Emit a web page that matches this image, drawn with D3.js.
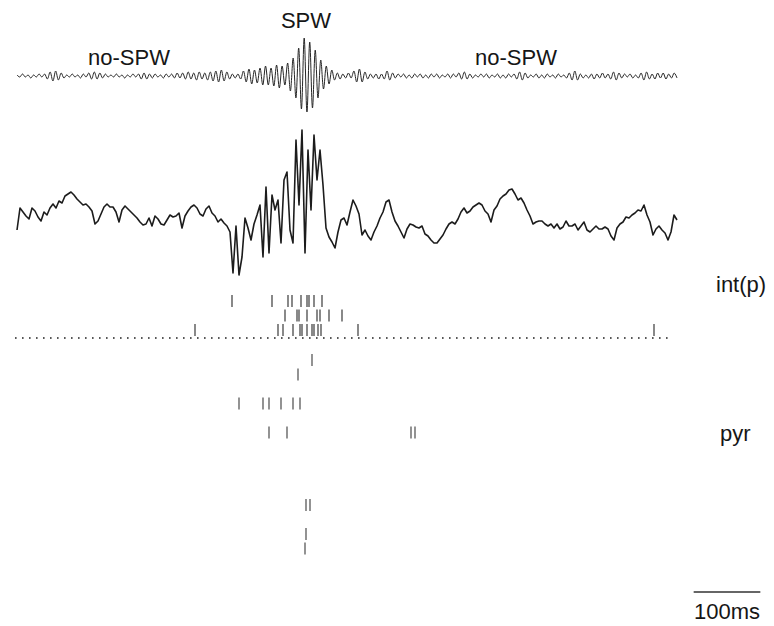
<!DOCTYPE html>
<html>
<head>
<meta charset="utf-8">
<script src="https://cdn.jsdelivr.net/npm/d3@7"></script>
<style>
  html, body { margin: 0; padding: 0; background: #ffffff; }
  svg { display: block; }
  text { font-family: "Liberation Sans", Arial, Helvetica, sans-serif; fill: #161616; }
</style>
</head>
<body>
<svg id="chart" width="774" height="626"></svg>
<script>
// ---------- DATA ----------
// total window (ms)
const windowMs = 990;

// ripple-band filtered trace (arbitrary units, evenly sampled over the window)
const rippleTrace = [
  1,-1,2,-1,1,-2,1,-1,2,-1,
  2,-3,4,-5,5,-4,3,-2,1,-1,
  2,-1,1,-2,2,-1,3,-3,4,-3,
  3,-2,2,-1,1,-1,2,-1,1,-2,
  1,-1,2,-1,2,-3,3,-3,2,-2,
  2,-1,1,-2,2,-1,2,-2,3,-2,
  3,-3,4,-3,3,-4,4,-3,3,-4,
  4,-5,5,-6,6,-5,4,-3,2,-2,
  2,-3,5,-6,7,-8,6,-7,8,-9,
  10,-9,8,-10,11,-12,10,-9,13,-15,
  18,-22,28,-33,38,-36,34,-32,26,-22,
  16,-13,10,-8,6,-4,3,-3,2,-2,
  3,-2,5,-6,7,-6,4,-3,2,-2,
  2,-3,2,-3,5,-4,3,-2,2,-1,
  2,-2,1,-2,2,-1,2,-2,1,-2,
  2,-1,2,-2,1,-1,2,-2,2,-1,
  3,-3,4,-3,2,-2,1,-1,2,-1,
  2,-2,1,-1,2,-2,1,-2,2,-1,
  2,-3,4,-4,3,-2,1,-1,2,-2,
  1,-2,2,-1,1,-2,2,-1,1,-2,
  3,-4,5,-4,2,-2,1,-2,2,-3,
  2,-2,3,-2,2,-3,4,-4,3,-2,
  2,-1,2,-2,1,-2,3,-4,4,-3,
  2,-3,3,-2,3,-3,2,-2,3,-2
];

// wide-band field potential (arbitrary units, sampled every 4.5 ms)
const lfpStepMs = 4.5;
const lfpTrace = [
  -20,2,-2,-6,-9,2,-1,-7,-11,-2,
  -5,2,6,2,9,7,14,16,18,15,
  11,8,5,6,3,-1,-14,-11,-4,3,
  6,3,3,-2,-12,0,4,1,-2,-5,
  -8,-12,-15,-14,-8,-16,-6,-9,-14,-15,
  -10,-5,-7,-6,-3,-18,-6,-1,3,5,
  2,-4,-6,1,4,-3,-6,-12,-9,-13,
  -16,-22,-63,-16,-65,-47,-8,-18,-30,-14,
  -5,5,-47,23,-43,15,0,10,-33,30,
  38,-20,-33,70,5,80,-43,60,0,75,
  30,60,25,-18,-27,-32,-38,-22,-10,-8,
  -15,-2,10,4,-4,-25,-20,-26,-30,-22,
  -16,-8,-2,8,10,-2,-11,-16,-22,-28,
  -19,-14,-15,-17,-18,-16,-24,-26,-30,-33,
  -33,-29,-25,-19,-14,-12,-14,-9,-2,2,
  -3,-1,3,5,7,5,-1,-4,-12,0,
  4,11,14,16,20,21,16,10,12,7,
  0,-6,-14,-12,-11,-11,-14,-16,-14,-18,
  -14,-19,-17,-11,-16,-16,-14,-20,-16,-12,
  -20,-22,-19,-16,-19,-19,-17,-19,-26,-30,
  -18,-14,-12,-7,-8,-5,-3,0,-1,5,
  -5,-12,-25,-19,-16,-20,-23,-30,-22,-5,
  -10
];

// interneuron (putative) spike times, ms, one array per unit
const intUnit1 = [322.5, 382.5, 406.5, 412.5, 426, 435, 438, 445.5, 457.5];
const intUnit2 = [402, 420, 423, 435, 450, 454.5, 468, 487.5];
const intUnit3 = [267, 391.5, 399, 414, 424.5, 427.5, 435, 442.5, 445.5, 451.5, 456, 511.5, 955.5];

// pyramidal cells: row number and spike times (ms)
const pyrRows = [0, 1, 3, 5, 10, 12, 13];
const pyrSpikes = [
  [442.5],
  [421.5],
  [333, 369, 378, 396, 414, 424.5],
  [378, 405, 591, 597],
  [433.5, 439.5],
  [433.5],
  [432]
];

const labels = { spw: "SPW", noSpw: "no-SPW", interneuron: "int(p)", pyramidal: "pyr", scale: "100ms" };
const scaleBarMs = 100;
const scaleBarStartMs = 1015;

// ---------- DRAW ----------
const svg = d3.select("#chart");

const x = d3.scaleLinear().domain([0, windowMs]).range([17, 677]);
const yRipple = d3.scaleLinear().domain([-40, 40]).range([116, 36]);
const yLfp = d3.scaleLinear().domain([-70, 90]).range([280, 120]);

const rippleT = d3.range(rippleTrace.length).map(i => i * windowMs / (rippleTrace.length - 1));

svg.append("path")
  .datum(rippleTrace)
  .attr("fill", "none")
  .attr("stroke", "#262626")
  .attr("stroke-width", 1)
  .attr("d", d3.line()
    .x((d, i) => x(rippleT[i]))
    .y(d => yRipple(d))
    .curve(d3.curveCatmullRom));

svg.append("path")
  .datum(lfpTrace)
  .attr("fill", "none")
  .attr("stroke", "#1c1c1c")
  .attr("stroke-width", 1.6)
  .attr("stroke-linejoin", "round")
  .attr("d", d3.line()
    .x((d, i) => x(i * lfpStepMs))
    .y(d => yLfp(d)));

// text labels
svg.append("text").attr("x", 306).attr("y", 28).attr("text-anchor", "middle")
  .attr("font-size", 22).text(labels.spw);
svg.append("text").attr("x", 88).attr("y", 65).attr("font-size", 22).text(labels.noSpw);
svg.append("text").attr("x", 475).attr("y", 65).attr("font-size", 22).text(labels.noSpw);
svg.append("text").attr("x", 716).attr("y", 292).attr("font-size", 22).text(labels.interneuron);
svg.append("text").attr("x", 720).attr("y", 441).attr("font-size", 22).text(labels.pyramidal);

// raster
const tickLen = 12;
const yInt = d3.scaleLinear().domain([0, 2]).range([301, 330]);
const yPyr = d3.scaleLinear().domain([0, 13]).range([360, 548.5]);

const intUnits = [intUnit1, intUnit2, intUnit3];
const gInt = svg.append("g");
intUnits.forEach((times, r) => {
  gInt.selectAll(null).data(times).enter().append("line")
    .attr("x1", d => x(d)).attr("x2", d => x(d))
    .attr("y1", yInt(r) - tickLen / 2).attr("y2", yInt(r) + tickLen / 2)
    .attr("stroke", "#3a3a3a").attr("stroke-width", 1.2);
});

// dotted separator line
svg.append("line")
  .attr("x1", x(0) - 2).attr("x2", x(windowMs) - 5)
  .attr("y1", 338).attr("y2", 338)
  .attr("stroke", "#222").attr("stroke-width", 1.6)
  .attr("stroke-dasharray", "1.6,5.4");

const gPyr = svg.append("g");
pyrRows.forEach((row, k) => {
  gPyr.selectAll(null).data(pyrSpikes[k]).enter().append("line")
    .attr("x1", d => x(d)).attr("x2", d => x(d))
    .attr("y1", yPyr(row) - tickLen / 2).attr("y2", yPyr(row) + tickLen / 2)
    .attr("stroke", "#4a4a4a").attr("stroke-width", 1.2);
});

// scale bar
svg.append("line")
  .attr("x1", x(scaleBarStartMs)).attr("x2", x(scaleBarStartMs + scaleBarMs))
  .attr("y1", 592).attr("y2", 592)
  .attr("stroke", "#333").attr("stroke-width", 1.3);
svg.append("text")
  .attr("x", (x(scaleBarStartMs) + x(scaleBarStartMs + scaleBarMs)) / 2)
  .attr("y", 619).attr("text-anchor", "middle").attr("font-size", 22)
  .text(labels.scale);
</script>
</body>
</html>
